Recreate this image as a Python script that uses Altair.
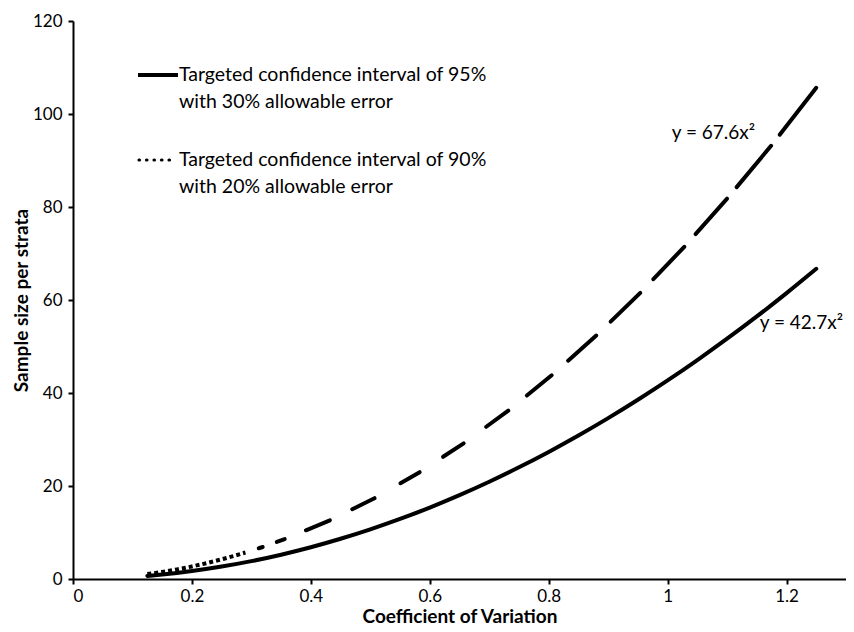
import altair as alt
import pandas as pd

# ---- data ----
# 95% CI / 30% error curve (solid)
cv_solid = [0.125, 0.15, 0.2, 0.25, 0.3, 0.35, 0.4, 0.45, 0.5, 0.55, 0.6, 0.65,
            0.7, 0.75, 0.8, 0.85, 0.9, 0.95, 1.0, 1.05, 1.1, 1.15, 1.2, 1.25]
n_solid = [0.67, 0.96, 1.71, 2.67, 3.84, 5.23, 6.83, 8.65, 10.68, 12.92, 15.37, 18.04,
           20.92, 24.02, 27.33, 30.85, 34.59, 38.54, 42.70, 47.08, 51.67, 56.47, 61.49, 66.72]

# 90% CI / 20% error curve, low part (dotted)
cv_dot = [0.125, 0.15, 0.175, 0.2, 0.225, 0.25, 0.29]
n_dot = [1.06, 1.52, 2.07, 2.70, 3.42, 4.23, 5.69]

# 90% CI / 20% error curve, upper part (dash breaks)
cv_dash = [0.29, 0.319, 0.356, 0.432, 0.507, 0.583, 0.657, 0.732, 0.805, 0.880,
           0.954, 1.028, 1.100, 1.174, 1.25]
n_dash = [5.69, 6.88, 8.57, 12.62, 17.38, 22.98, 29.18, 36.22, 43.81, 52.35,
          61.52, 71.44, 81.80, 93.17, 105.63]

legend_lines = ["Targeted confidence interval of 95%", "with 30% allowable error",
                "Targeted confidence interval of 90%", "with 20% allowable error"]

eq_text = ["y = 67.6x²", "y = 42.7x²"]
eq_cv = [1.077, 1.225]
eq_n = [96.0, 55.0]

x_ticks = [0, 0.2, 0.4, 0.6, 0.8, 1, 1.2]
y_ticks = [0, 20, 40, 60, 80, 100, 120]

# ---- styling ----
FONT = "Lato"
LW = 4
gaps = [14, 15, 23, 25, 30, 28, 28, 24, 22, 20, 19, 17, 15, 14]

x_scale = alt.Scale(domain=[0, 1.3], nice=False, zero=False)
y_scale = alt.Scale(domain=[0, 120], nice=False)
x_axis = alt.Axis(values=x_ticks, format="~g", title="Coefficient of Variation",
                  labelPadding=4, titlePadding=3)
y_axis = alt.Axis(values=y_ticks, title="Sample size per strata",
                  labelPadding=6, titlePadding=1)
X = alt.X("cv:Q", scale=x_scale, axis=x_axis)
Y = alt.Y("n:Q", scale=y_scale, axis=y_axis)

df_solid = pd.DataFrame({"cv": cv_solid, "n": n_solid})
df_dot = pd.DataFrame({"cv": cv_dot, "n": n_dot})
rows = []
for i in range(len(cv_dash) - 1):
    rows.append({"cv": cv_dash[i], "n": n_dash[i], "seg": i})
    rows.append({"cv": cv_dash[i + 1], "n": n_dash[i + 1], "seg": i})
df_dash = pd.DataFrame(rows)
seg_ids = list(range(len(cv_dash) - 1))

solid = alt.Chart(df_solid).mark_line(
    color="black", strokeWidth=LW, interpolate="monotone", strokeCap="round"
).encode(x=X, y=Y)

dotted = alt.Chart(df_dot).mark_line(
    color="black", strokeWidth=LW, strokeDash=[4, 3], strokeCap="butt",
    interpolate="monotone"
).encode(x=X, y=Y)

dashed = alt.Chart(df_dash).mark_line(
    color="black", strokeWidth=LW, strokeCap="round", strokeDashOffset=1000
).encode(
    x=X, y=Y,
    detail="seg:N",
    strokeDash=alt.StrokeDash("seg:N", legend=None,
                              scale=alt.Scale(domain=seg_ids,
                                              range=[[1000, g] for g in gaps])),
)

eq = alt.Chart(pd.DataFrame({"cv": eq_cv, "n": eq_n, "t": eq_text})).mark_text(
    font=FONT, fontSize=19, color="black", align="center", baseline="middle"
).encode(x=X, y=Y, text="t:N")

one = pd.DataFrame({"k": [0]})
leg_solid = alt.Chart(one).mark_rule(color="black", strokeWidth=4).encode(
    x=alt.value(65), x2=alt.value(105), y=alt.value(54))
leg_dot = alt.Chart(one).mark_rule(color="black", strokeWidth=3.2,
                                   strokeDash=[0.5, 7], strokeCap="round").encode(
    x=alt.value(66), x2=alt.value(101), y=alt.value(139))

leg_texts = []
for line, ypos in zip(legend_lines, [54, 81, 139, 166]):
    leg_texts.append(
        alt.Chart(pd.DataFrame({"t": [line]})).mark_text(
            font=FONT, fontSize=19.5, color="black", align="left", baseline="middle"
        ).encode(x=alt.value(106), y=alt.value(ypos), text="t:N")
    )

chart = alt.layer(solid, dotted, dashed, eq, leg_solid, leg_dot, *leg_texts).resolve_scale(
    strokeDash="independent"
).properties(
    width=773, height=558,
    autosize=alt.AutoSizeParams(type="none"),
    padding={"left": 65, "top": 13, "right": 0, "bottom": 53},
).configure_view(stroke=None).configure_axis(
    labelFont=FONT, labelFontSize=17, labelColor="black",
    titleFont=FONT, titleFontSize=19, titleFontWeight="bold", titleColor="black",
    domainColor="black", domainWidth=2, tickColor="black", tickWidth=2, tickSize=5,
    grid=False,
)

chart.save("out.html", embed_options={"renderer": "svg", "actions": False})
